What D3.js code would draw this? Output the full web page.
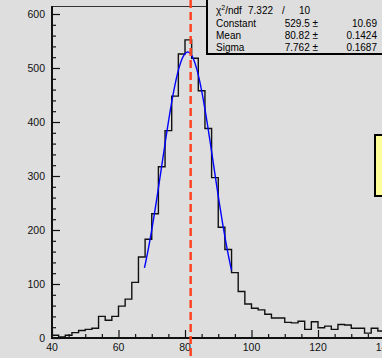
<!DOCTYPE html>
<html>
<head>
<meta charset="utf-8">
<script src="https://cdn.jsdelivr.net/npm/d3@7"></script>
<style>
  html, body { margin: 0; padding: 0; background: #dedede; overflow: hidden; }
  svg { display: block; font-family: "Liberation Sans", Arial, sans-serif; }
</style>
</head>
<body>
<svg id="chart"></svg>
<script>
// histogram: bin low edges (width 2) and counts
const binWidth = 2;
const binLows = d3.range(40, 140, binWidth);
const counts = [5, 2, 5, 10, 14, 16, 18, 40, 33, 40,
                59, 72, 103, 150, 183, 230, 317, 384, 448, 526,
                552, 518, 458, 388, 297, 205, 164, 121, 86, 63,
                55, 52, 44, 37, 37, 29, 28, 31, 16, 30,
                19, 22, 16, 25, 24, 18, 18, 9, 18, 13];

// gaussian fit parameters (from the stats box)
const fitConstant = 529.5, fitMean = 80.82, fitSigma = 7.762;
const fitRange = [67.8, 94];

// stats box rows
const statLabels = ["Constant", "Mean", "Sigma"];
const statValues = ["529.5", "80.82", "7.762"];
const statErrors = ["10.69", "0.1424", "0.1687"];
const chi2 = "7.322", ndf = "10";

const cutValue = 81.7;
const xTicks = [40, 60, 80, 100, 120, 140];
const yTicks = [0, 100, 200, 300, 400, 500, 600];

const W = 382, H = 358;
const svg = d3.select("#chart").attr("width", W).attr("height", H);

const x = d3.scaleLinear().domain([40, 140]).range([52, 384.5]);
const y = d3.scaleLinear().domain([0, 600]).range([338, 14]);

// frame top line
svg.append("line")
    .attr("x1", x(40)).attr("x2", W)
    .attr("y1", 6.5).attr("y2", 6.5)
    .attr("stroke", "#333").attr("stroke-width", 1);

// histogram outline
const pts = binLows.map((lo, i) => [lo, counts[i]]);
pts.push([binLows[binLows.length - 1] + binWidth, counts[counts.length - 1]]);
svg.append("path")
    .attr("d", d3.line().x(d => x(d[0])).y(d => y(d[1])).curve(d3.curveStepAfter)(pts))
    .attr("fill", "none").attr("stroke", "#111").attr("stroke-width", 1.4);

// fit curve
const fitX = d3.range(fitRange[0], fitRange[1] + 0.01, 0.2);
svg.append("path")
    .attr("d", d3.line()
        .x(v => x(v))
        .y(v => y(fitConstant * Math.exp(-0.5 * Math.pow((v - fitMean) / fitSigma, 2))))(fitX))
    .attr("fill", "none").attr("stroke", "#0000ff").attr("stroke-width", 1.4);

// axes
const yAxis = svg.append("g").attr("transform", `translate(${x(40)},0)`);
yAxis.call(d3.axisRight(y).tickValues(d3.range(0, 601, 20)).tickSize(4).tickFormat(""));
yAxis.selectAll(".tick line").filter(d => d % 100 === 0).attr("x2", 8);
yAxis.select(".domain").remove();
yAxis.selectAll(".tick line").attr("stroke", "#111").attr("stroke-width", 1.2);
svg.append("line").attr("x1", x(40)).attr("x2", x(40)).attr("y1", 6).attr("y2", 339)
    .attr("stroke", "#111").attr("stroke-width", 2);
svg.selectAll(".ylab").data(yTicks).join("text")
    .attr("class", "ylab")
    .attr("x", 45).attr("y", d => y(d))
    .attr("dy", "0.35em").attr("text-anchor", "end")
    .attr("font-size", 10.5).attr("fill", "#111")
    .text(d => d);

const xAxis = svg.append("g").attr("transform", `translate(0,${y(0)})`);
xAxis.call(d3.axisTop(x).tickValues(d3.range(40, 141, 5)).tickSize(4).tickFormat(""));
xAxis.selectAll(".tick line").filter(d => d % 20 === 0).attr("y2", -8);
xAxis.select(".domain").remove();
xAxis.selectAll(".tick line").attr("stroke", "#111").attr("stroke-width", 1.2);
svg.append("line").attr("x1", x(40) - 1).attr("x2", W).attr("y1", y(0)).attr("y2", y(0))
    .attr("stroke", "#111").attr("stroke-width", 2);
svg.selectAll(".xlab").data(xTicks).join("text")
    .attr("class", "xlab")
    .attr("x", d => x(d)).attr("y", 351)
    .attr("text-anchor", "middle")
    .attr("font-size", 10.5).attr("fill", "#111")
    .text(d => d);

// dashed cut line
svg.append("line")
    .attr("x1", x(cutValue)).attr("x2", x(cutValue))
    .attr("y1", 0).attr("y2", H)
    .attr("stroke", "#ff4422").attr("stroke-width", 2.5)
    .attr("stroke-dasharray", "8,4");

// stats box
const sb = svg.append("g");
sb.append("rect").attr("x", 207).attr("y", -2).attr("width", 180).attr("height", 56)
    .attr("fill", "#dedede").attr("stroke", "#000").attr("stroke-width", 2);
const tf = 10;
const chiText = sb.append("text").attr("x", 216).attr("y", 14).attr("font-size", tf).attr("fill", "#000");
chiText.append("tspan").text("χ");
chiText.append("tspan").attr("dy", -4).attr("font-size", 7).text("2");
chiText.append("tspan").attr("dy", 4).text("/ndf");
sb.append("text").attr("x", 248).attr("y", 14).attr("font-size", tf).text(chi2);
sb.append("text").attr("x", 282).attr("y", 14).attr("font-size", tf).text("/");
sb.append("text").attr("x", 299).attr("y", 14).attr("font-size", tf).text(ndf);
statLabels.forEach((lab, i) => {
    const ty = 27 + i * 12;
    sb.append("text").attr("x", 216).attr("y", ty).attr("font-size", tf).text(lab);
    sb.append("text").attr("x", 318).attr("y", ty).attr("font-size", tf)
        .attr("text-anchor", "end").text(statValues[i] + " ±");
    sb.append("text").attr("x", 377).attr("y", ty).attr("font-size", tf)
        .attr("text-anchor", "end").text(statErrors[i]);
});

// legend box (cut off at the right edge)
svg.append("rect").attr("x", 375).attr("y", 135).attr("width", 20).attr("height", 61)
    .attr("fill", "#ffff99").attr("stroke", "#000").attr("stroke-width", 2);
</script>
</body>
</html>
